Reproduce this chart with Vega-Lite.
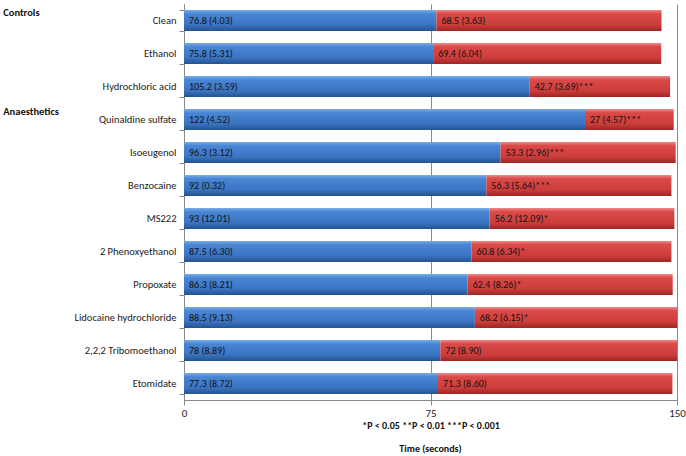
{
  "$schema": "https://vega.github.io/schema/vega-lite/v6.json",
  "autosize": {"type": "none"},
  "padding": {"left": 184, "top": 4, "right": 9, "bottom": 56},
  "width": 493,
  "height": 396,
  "background": "white",
  "title": {"text": "Time (seconds)", "orient": "bottom", "anchor": "middle", "frame": "group", "fontSize": 10, "fontWeight": "bold", "color": "#111111", "offset": 14, "font": "Carlito, Liberation Sans Narrow, Lato, sans-serif"},
  "config": {"view": {"stroke": null}, "font": "Carlito, Liberation Sans Narrow, Lato, sans-serif"},
  "datasets": {
    "bars": [
      {"drug": "Clean", "phase": 1, "value": 76.8, "label": "76.8 (4.03)"},
      {"drug": "Clean", "phase": 2, "value": 68.5, "label": "68.5 (3.63)"},
      {"drug": "Ethanol", "phase": 1, "value": 75.8, "label": "75.8 (5.31)"},
      {"drug": "Ethanol", "phase": 2, "value": 69.4, "label": "69.4 (6.04)"},
      {"drug": "Hydrochloric acid", "phase": 1, "value": 105.2, "label": "105.2 (3.59)"},
      {"drug": "Hydrochloric acid", "phase": 2, "value": 42.7, "label": "42.7 (3.69)***"},
      {"drug": "Quinaldine sulfate", "phase": 1, "value": 122, "label": "122 (4.52)"},
      {"drug": "Quinaldine sulfate", "phase": 2, "value": 27, "label": "27 (4.57)***"},
      {"drug": "Isoeugenol", "phase": 1, "value": 96.3, "label": "96.3 (3.12)"},
      {"drug": "Isoeugenol", "phase": 2, "value": 53.3, "label": "53.3 (2.96)***"},
      {"drug": "Benzocaine", "phase": 1, "value": 92, "label": "92 (0.32)"},
      {"drug": "Benzocaine", "phase": 2, "value": 56.3, "label": "56.3 (5.64)***"},
      {"drug": "MS222", "phase": 1, "value": 93, "label": "93 (12.01)"},
      {"drug": "MS222", "phase": 2, "value": 56.2, "label": "56.2 (12.09)*"},
      {"drug": "2 Phenoxyethanol", "phase": 1, "value": 87.5, "label": "87.5 (6.30)"},
      {"drug": "2 Phenoxyethanol", "phase": 2, "value": 60.8, "label": "60.8 (6.34)*"},
      {"drug": "Propoxate", "phase": 1, "value": 86.3, "label": "86.3 (8.21)"},
      {"drug": "Propoxate", "phase": 2, "value": 62.4, "label": "62.4 (8.26)*"},
      {"drug": "Lidocaine hydrochloride", "phase": 1, "value": 88.5, "label": "88.5 (9.13)"},
      {"drug": "Lidocaine hydrochloride", "phase": 2, "value": 68.2, "label": "68.2 (6.15)*"},
      {"drug": "2,2,2 Tribomoethanol", "phase": 1, "value": 78, "label": "78 (8.89)"},
      {"drug": "2,2,2 Tribomoethanol", "phase": 2, "value": 72, "label": "72 (8.90)"},
      {"drug": "Etomidate", "phase": 1, "value": 77.3, "label": "77.3 (8.72)"},
      {"drug": "Etomidate", "phase": 2, "value": 71.3, "label": "71.3 (8.60)"}
    ],
    "headers": [
      {"drug": "Clean", "header": "Controls"},
      {"drug": "Quinaldine sulfate", "header": "Anaesthetics"}
    ]
  },
  "layer": [
    {
      "data": {"name": "bars"},
      "transform": [
        {"stack": "value", "groupby": ["drug"], "sort": [{"field": "phase"}], "as": ["v0", "v1"]}
      ],
      "layer": [
        {
          "mark": {"type": "bar", "clip": true, "stroke": null},
          "encoding": {
            "y": {
              "field": "drug", "type": "nominal", "sort": null,
              "scale": {"paddingInner": 0.36, "paddingOuter": 0.18},
              "axis": {
                "title": null, "tickBand": "extent", "tickSize": 5, "labelPadding": 3,
                "domainColor": "#888888", "tickColor": "#888888",
                "labelFontSize": 10.5, "labelColor": "#222222",
                "labelFont": "Carlito, Liberation Sans Narrow, Lato, sans-serif"
              }
            },
            "x": {
              "field": "v0", "type": "quantitative",
              "scale": {"domain": [0, 150], "nice": false, "zero": true},
              "axis": {
                "values": [0, 75, 150], "grid": true, "gridColor": "#888888",
                "domainColor": "#888888", "tickColor": "#888888", "tickSize": 5,
                "labelFlush": false, "labelOverlap": false,
                "labelFontSize": 11, "labelColor": "#222222", "labelPadding": 2,
                "labelFont": "Carlito, Liberation Sans Narrow, Lato, sans-serif",
                "title": "*P < 0.05 **P < 0.01 ***P < 0.001",
                "titleFontSize": 10, "titleFontWeight": "bold", "titleColor": "#111111",
                "titlePadding": 2,
                "titleFont": "Carlito, Liberation Sans Narrow, Lato, sans-serif"
              }
            },
            "x2": {"field": "v1"},
            "fill": {
              "condition": {
                "test": "datum.phase == 1",
                "value": {"gradient": "linear", "x1": 0, "y1": 0, "x2": 0, "y2": 1,
                  "stops": [{"offset": 0, "color": "#7aaee8"}, {"offset": 0.18, "color": "#4a86d4"}, {"offset": 0.7, "color": "#3a74c2"}, {"offset": 1, "color": "#25528f"}]}
              },
              "value": {"gradient": "linear", "x1": 0, "y1": 0, "x2": 0, "y2": 1,
                "stops": [{"offset": 0, "color": "#f08a8a"}, {"offset": 0.18, "color": "#d94a48"}, {"offset": 0.7, "color": "#cc3d3b"}, {"offset": 1, "color": "#9e2624"}]}
            }
          }
        },
        {
          "mark": {"type": "text", "align": "left", "baseline": "middle", "dx": 5, "fontSize": 10, "color": "#111111"},
          "encoding": {
            "y": {"field": "drug", "type": "nominal", "sort": null},
            "x": {"field": "v0", "type": "quantitative"},
            "text": {"field": "label"}
          }
        }
      ]
    },
    {
      "data": {"name": "headers"},
      "mark": {"type": "text", "align": "left", "baseline": "middle", "dy": -8, "fontSize": 10.5, "fontWeight": "bold", "color": "#111111"},
      "encoding": {
        "y": {"field": "drug", "type": "nominal", "sort": null},
        "x": {"datum": -55, "type": "quantitative"},
        "text": {"field": "header"}
      }
    }
  ]
}
